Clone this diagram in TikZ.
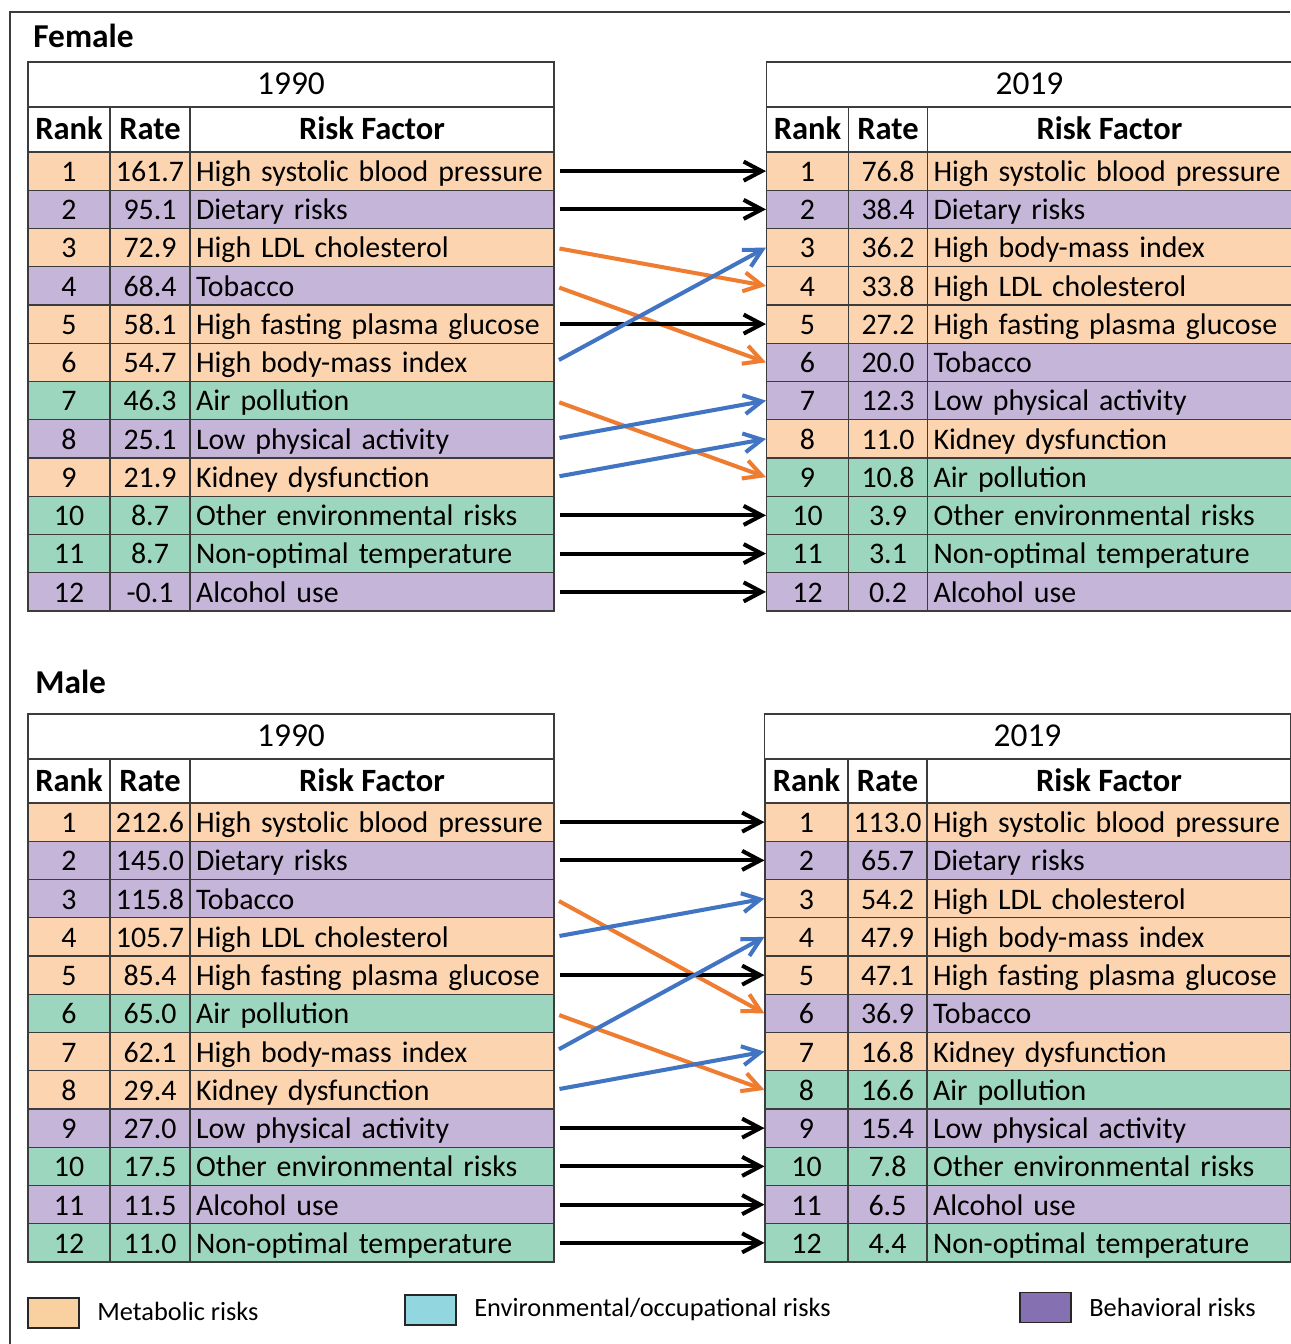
\documentclass[tikz,border=0pt]{standalone}
\usepackage{fontspec}
\setmainfont{Carlito}
\usetikzlibrary{arrows.meta}
\definecolor{riskMetab}{HTML}{FCD5B0}
\definecolor{riskBehav}{HTML}{C5B5D9}
\definecolor{riskEnv}{HTML}{9DD6BE}
\definecolor{keyMetab}{HTML}{F9D0A0}
\definecolor{keyEnv}{HTML}{92D6E0}
\definecolor{keyBehav}{HTML}{8571B1}
\definecolor{rankUp}{HTML}{4174C2}
\definecolor{rankDown}{HTML}{EE7D31}
\definecolor{cellLine}{HTML}{3C3C3C}

\begin{document}
\begin{tikzpicture}[
    x=1cm,y=1cm,
    every node/.style={inner sep=0pt,font=\fontsize{17}{20}\selectfont},
    cell/.style={draw=cellLine,line width=0.6pt,minimum height=0.765cm,text height=1.18em,text depth=0em},
    rankcell/.style={cell,minimum width=1.64cm},
    ratecell/.style={cell,minimum width=1.6cm},
    riskcell/.style={cell,text width=7.04cm,inner xsep=0.12cm,align=left},
    yearcell/.style={cell,minimum width=10.52cm,minimum height=0.9cm,font=\fontsize{19}{22}\selectfont},
    headcell/.style={cell,minimum height=0.9cm,font=\fontsize{18.5}{22}\selectfont\bfseries},
    metabolic/.style={fill=riskMetab},
    behavioral/.style={fill=riskBehav},
    environ/.style={fill=riskEnv},
    title/.style={anchor=west,font=\fontsize{19}{22}\selectfont\bfseries},
    keybox/.style={draw=black!85,line width=1pt,minimum width=1.02cm,minimum height=0.6cm},
    keytext/.style={anchor=west,font=\fontsize{15}{18}\selectfont,text height=0.9em,text depth=0.1em},
    samerank/.style={-{Straight Barb[length=3.6mm,width=3.8mm]},line width=2.3pt,shorten <=0.1cm},
    uprank/.style={samerank,draw=rankUp},
    downrank/.style={samerank,draw=rankDown}
]
\useasboundingbox (0,0) rectangle (25.8,-26.88);
\draw[cellLine,line width=0.6pt] (0.2,-26.88) -- (0.2,-0.24) -- (25.8,-0.24);

% Female
\node[title] (femaletitle) at (0.66,-0.72) {Female};
\node[yearcell] (f90year) at (5.82,-1.69) {1990};
\node[headcell,minimum width=1.64cm] (f90hrank) at (1.38,-2.59) {Rank};
\node[headcell,minimum width=1.6cm] (f90hrate) at (3.0,-2.59) {Rate};
\node[headcell,minimum width=7.28cm] (f90hrisk) at (7.44,-2.59) {Risk Factor};
\foreach \v/\t/\c [count=\i] in {161.7/High systolic blood pressure/metabolic,
    95.1/Dietary risks/behavioral, 72.9/High LDL cholesterol/metabolic,
    68.4/Tobacco/behavioral, 58.1/High fasting plasma glucose/metabolic,
    54.7/High body-mass index/metabolic, 46.3/Air pollution/environ,
    25.1/Low physical activity/behavioral, 21.9/Kidney dysfunction/metabolic,
    8.7/Other environmental risks/environ, 8.7/Non-optimal temperature/environ,
    -0.1/Alcohol use/behavioral}{
  \node[rankcell,\c] (f90rank\i) at (1.38,{-2.6575-0.765*\i}) {\i};
  \node[ratecell,\c] (f90rate\i) at (3.0,{-2.6575-0.765*\i}) {\v};
  \node[riskcell,\c] (f90risk\i) at (7.44,{-2.6575-0.765*\i}) {\mbox{\t}};
}

\node[yearcell] (f19year) at (20.59,-1.69) {2019};
\node[headcell,minimum width=1.64cm] (f19hrank) at (16.15,-2.59) {Rank};
\node[headcell,minimum width=1.58cm] (f19hrate) at (17.76,-2.59) {Rate};
\node[headcell,minimum width=7.28cm] (f19hrisk) at (22.19,-2.59) {Risk Factor};
\foreach \v/\t/\c [count=\i] in {76.8/High systolic blood pressure/metabolic,
    38.4/Dietary risks/behavioral, 36.2/High body-mass index/metabolic,
    33.8/High LDL cholesterol/metabolic, 27.2/High fasting plasma glucose/metabolic,
    20.0/Tobacco/behavioral, 12.3/Low physical activity/behavioral,
    11.0/Kidney dysfunction/metabolic, 10.8/Air pollution/environ,
    3.9/Other environmental risks/environ, 3.1/Non-optimal temperature/environ,
    0.2/Alcohol use/behavioral}{
  \node[rankcell,\c] (f19rank\i) at (16.15,{-2.6575-0.765*\i}) {\i};
  \node[ratecell,\c,minimum width=1.58cm] (f19rate\i) at (17.76,{-2.6575-0.765*\i}) {\v};
  \node[riskcell,\c] (f19risk\i) at (22.19,{-2.6575-0.765*\i}) {\mbox{\t}};
}

\draw[samerank] (f90risk1.east) -- (f19rank1.west);
\draw[samerank] (f90risk2.east) -- (f19rank2.west);
\draw[downrank] (f90risk3.east) -- (f19rank4.west);
\draw[downrank] (f90risk4.east) -- (f19rank6.west);
\draw[samerank] (f90risk5.east) -- (f19rank5.west);
\draw[uprank] (f90risk6.east) -- (f19rank3.west);
\draw[downrank] (f90risk7.east) -- (f19rank9.west);
\draw[uprank] (f90risk8.east) -- (f19rank7.west);
\draw[uprank] (f90risk9.east) -- (f19rank8.west);
\draw[samerank] (f90risk10.east) -- (f19rank10.west);
\draw[samerank] (f90risk11.east) -- (f19rank11.west);
\draw[samerank] (f90risk12.east) -- (f19rank12.west);

% Male
\node[title] (maletitle) at (0.7,-13.64) {Male};
\node[yearcell] (m90year) at (5.82,-14.73) {1990};
\node[headcell,minimum width=1.64cm,minimum height=0.88cm] (m90hrank) at (1.38,-15.62) {Rank};
\node[headcell,minimum width=1.6cm,minimum height=0.88cm] (m90hrate) at (3.0,-15.62) {Rate};
\node[headcell,minimum width=7.28cm,minimum height=0.88cm] (m90hrisk) at (7.44,-15.62) {Risk Factor};
\foreach \v/\t/\c [count=\i] in {212.6/High systolic blood pressure/metabolic,
    145.0/Dietary risks/behavioral, 115.8/Tobacco/behavioral,
    105.7/High LDL cholesterol/metabolic, 85.4/High fasting plasma glucose/metabolic,
    65.0/Air pollution/environ, 62.1/High body-mass index/metabolic,
    29.4/Kidney dysfunction/metabolic, 27.0/Low physical activity/behavioral,
    17.5/Other environmental risks/environ, 11.5/Alcohol use/behavioral,
    11.0/Non-optimal temperature/environ}{
  \node[rankcell,\c] (m90rank\i) at (1.38,{-15.6775-0.765*\i}) {\i};
  \node[ratecell,\c] (m90rate\i) at (3.0,{-15.6775-0.765*\i}) {\v};
  \node[riskcell,\c] (m90risk\i) at (7.44,{-15.6775-0.765*\i}) {\mbox{\t}};
}

\node[yearcell] (m19year) at (20.55,-14.73) {2019};
\node[headcell,minimum width=1.66cm,minimum height=0.88cm] (m19hrank) at (16.13,-15.62) {Rank};
\node[headcell,minimum width=1.58cm,minimum height=0.88cm] (m19hrate) at (17.75,-15.62) {Rate};
\node[headcell,minimum width=7.28cm,minimum height=0.88cm] (m19hrisk) at (22.18,-15.62) {Risk Factor};
\foreach \v/\t/\c [count=\i] in {113.0/High systolic blood pressure/metabolic,
    65.7/Dietary risks/behavioral, 54.2/High LDL cholesterol/metabolic,
    47.9/High body-mass index/metabolic, 47.1/High fasting plasma glucose/metabolic,
    36.9/Tobacco/behavioral, 16.8/Kidney dysfunction/metabolic,
    16.6/Air pollution/environ, 15.4/Low physical activity/behavioral,
    7.8/Other environmental risks/environ, 6.5/Alcohol use/behavioral,
    4.4/Non-optimal temperature/environ}{
  \node[rankcell,\c,minimum width=1.66cm] (m19rank\i) at (16.13,{-15.6775-0.765*\i}) {\i};
  \node[ratecell,\c,minimum width=1.58cm] (m19rate\i) at (17.75,{-15.6775-0.765*\i}) {\v};
  \node[riskcell,\c] (m19risk\i) at (22.18,{-15.6775-0.765*\i}) {\mbox{\t}};
}

\draw[samerank] (m90risk1.east) -- (m19rank1.west);
\draw[samerank] (m90risk2.east) -- (m19rank2.west);
\draw[downrank] (m90risk3.east) -- (m19rank6.west);
\draw[uprank] (m90risk4.east) -- (m19rank3.west);
\draw[samerank] (m90risk5.east) -- (m19rank5.west);
\draw[downrank] (m90risk6.east) -- (m19rank8.west);
\draw[uprank] (m90risk7.east) -- (m19rank4.west);
\draw[uprank] (m90risk8.east) -- (m19rank7.west);
\draw[samerank] (m90risk9.east) -- (m19rank9.west);
\draw[samerank] (m90risk10.east) -- (m19rank10.west);
\draw[samerank] (m90risk11.east) -- (m19rank11.west);
\draw[samerank] (m90risk12.east) -- (m19rank12.west);

% legend
\node[keybox,fill=keyMetab] (keymetab) at (1.07,-26.26) {};
\node[keytext] (keymetablabel) at (1.94,-26.26) {Metabolic risks};
\node[keybox,fill=keyEnv] (keyenv) at (8.61,-26.2) {};
\node[keytext] (keyenvlabel) at (9.48,-26.18) {Environmental/occupational risks};
\node[keybox,fill=keyBehav] (keybehav) at (20.91,-26.15) {};
\node[keytext] (keybehavlabel) at (21.78,-26.18) {Behavioral risks};
\end{tikzpicture}
\end{document}
